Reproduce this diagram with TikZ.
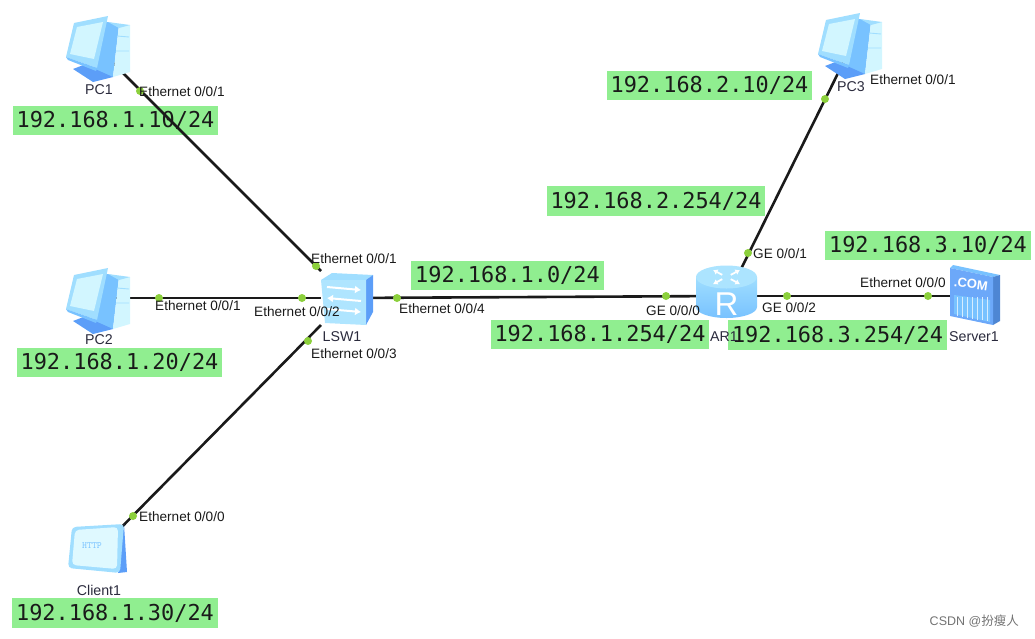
\documentclass[tikz,border=0pt]{standalone}
\usepackage{fontspec}
\setmainfont{Liberation Sans}
\newfontfamily\ipfont{DejaVu Sans Mono}
\newfontfamily\cjkfont{Noto Sans CJK SC}
\usetikzlibrary{arrows.meta,calc}
\definecolor{ipGreen}{HTML}{90EE90}
\definecolor{portGreen}{HTML}{8CD03C}
\definecolor{ink}{HTML}{1A1A1A}
\definecolor{devName}{HTML}{2A2A3C}
\definecolor{iconPale}{HTML}{D2F6FF}
\definecolor{iconLight}{HTML}{A0DEFF}
\definecolor{iconMid}{HTML}{78C2FF}
\definecolor{iconDark}{HTML}{5C9EF8}
\newcommand{\PortFont}{\fontsize{13.6}{15}\selectfont}
\newcommand{\NameFont}{\fontsize{14.2}{16}\selectfont}
\newcommand{\IpFont}{\ipfont\fontsize{21.9}{24}\selectfont}
\tikzset{
  link/.style={draw=ink, line width=2.6pt},
  devbox/.style={inner sep=0pt, outer sep=0pt, minimum width=#1, minimum height=54pt},
  portdot/.style={circle, fill=portGreen, inner sep=0pt, minimum size=8pt},
  portlbl/.style={font=\PortFont, text=ink, inner sep=0pt, anchor=west},
  devlbl/.style={font=\NameFont, text=devName, inner sep=0pt},
  ipbox/.style={fill=ipGreen, font=\IpFont, text=ink, inner sep=0pt,
    minimum width=#1, minimum height=29.5pt},
  % computer with tower, origin at top left of the icon
  pics/pcicon/.style={code={
    \fill[iconMid] (36,8) -- (43,7) -- (54,10) -- (48,62) -- (30,56) -- cycle;
    \fill[iconPale] (54,10) -- (65,10) -- (65,57) -- (48,62) -- cycle;
    \fill[iconLight] (43,7) -- (65,10) -- (54,13) -- cycle;
    \draw[iconLight, line width=0.9pt] (52,21) -- (64,22) (51,36) -- (64,36);
    \fill[iconDark] (8,54) -- (21,49) -- (30,54) -- (48,62) -- (28,67) -- cycle;
    \fill[iconLight] (1,42) -- (9,8) -- (43,1) -- (32,53) -- cycle;
    \fill[iconPale] (5,39) -- (12,12) -- (38,7) -- (29,44) -- cycle;
    \fill[iconMid] (1,42) -- (32,53) -- (31,56) -- (3,45) -- cycle;
  }},
  % switch box with three arrows
  pics/swicon/.style={code={
    \fill[iconLight] (0,7) -- (11,0) -- (52,2) -- (45,7) -- cycle;
    \fill[iconDark] (45,7) -- (52,2) -- (52,39) -- (45,52) -- cycle;
    \fill[iconLight!70!iconPale] (0,7) -- (45,7) -- (45,52) -- (4,50) -- cycle;
    \foreach \yy/\tip in {14/{-{Latex[length=6pt,width=8pt]}},25/{{Latex[length=6pt,width=8pt]}-},36/{-{Latex[length=6pt,width=8pt]}}}
      \draw[white, line width=2pt, \tip] (6,\yy) -- (40,\yy+3);
  }},
  % router cylinder
  pics/routericon/.style={code={
    \shade[top color=iconLight, bottom color=iconMid]
      (0,12) -- (0,42) arc[start angle=180, end angle=360, x radius=30.5pt, y radius=11pt]
      -- (61,12) -- cycle;
    \fill[iconLight!75!iconPale] (30.5,12) ellipse[x radius=30.5pt, y radius=11.5pt];
    \foreach \ang in {45,135,225,315}
      \draw[white, line width=1.8pt, -{Latex[length=4.5pt,width=6pt]}]
        ($(30.5,12)+(\ang:6pt and 3pt)$) -- ($(30.5,12)+(\ang:19pt and 10pt)$);
    \node[font=\fontsize{33}{34}\selectfont, text=white, inner sep=0pt] (routerR) at (30.5,39) {R};
  }},
  % server with lettering
  pics/servericon/.style={code={
    \fill[iconMid] (0,3) -- (3,0) -- (50,10) -- (43,12) -- cycle;
    \fill[iconDark!85!black] (43,12) -- (50,10) -- (50,56) -- (43,60) -- cycle;
    \fill[iconDark!90!white] (0,3) -- (43,12) -- (43,60) -- (0,51) -- cycle;
    \fill[iconMid] (4,30) -- (40,35) -- (40,57) -- (4,49) -- cycle;
    \foreach \xx in {7,12,...,37}
      \draw[white!70!iconMid, line width=0.6pt] (\xx,32) -- (\xx,50+\xx/6);
    \node[font=\bfseries\fontsize{13}{14}\selectfont, text=white, inner sep=0pt, rotate=-8] (serverCom) at (21,19) {.COM};
  }},
  % client tablet
  pics/clienticon/.style={code={
    \fill[iconDark] (56,0) -- (59,48) -- (50,49) -- cycle;
    \fill[iconLight, rounded corners=4pt] (4,3) -- (56,0) -- (52,49) -- (0,44) -- cycle;
    \fill[iconPale!70!white, rounded corners=4pt] (7,6) -- (50,3) -- (49,45) -- (4,41) -- cycle;
    \node[font=\ttfamily\fontsize{9.5}{10}\selectfont, text=iconMid, inner sep=0pt] (clientHttp) at (24,22) {HTTP};
  }},
}
\begin{document}
\begin{tikzpicture}[x=1pt,y=-1pt]
  \useasboundingbox (0,0) rectangle (1035,638);

  % Addresses
  \node[ipbox=205pt] (ip10) at (115.5,120.5) {192.168.1.10/24};
  \node[ipbox=205pt] (ip20) at (119.5,362.5) {192.168.1.20/24};
  \node[ipbox=206pt] (ip30) at (115,613) {192.168.1.30/24};
  \node[ipbox=205pt] (ip210) at (709.5,85.5) {192.168.2.10/24};
  \node[ipbox=218pt] (ip2254) at (656,201) {192.168.2.254/24};
  \node[ipbox=206pt] (ip310) at (928,245.5) {192.168.3.10/24};
  \node[ipbox=193pt] (ip10net) at (507.5,275.5) {192.168.1.0/24};
  \node[ipbox=218pt] (ip1254) at (600,334.5) {192.168.1.254/24};
  \node[ipbox=219pt] (ip3254) at (837.5,335) {192.168.3.254/24};

  % Devices (anchors for the connectors)
  \node[devbox=60pt] (pc1) at (98,48) {};
  \node[devbox=60pt] (pc2) at (98,298) {};
  \node[devbox=60pt] (client) at (99,550) {};
  \node[devbox=48pt] (lsw) at (345,298) {};
  \node[devbox=62pt] (ar) at (726,296) {};
  \node[devbox=60pt] (pc3) at (852,45) {};
  \node[devbox=50pt] (server) at (975,296) {};

  % Connectors
  \draw[link] (pc1.center) -- (lsw.north west);
  \draw[link] (pc2.center) -- (lsw.west);
  \draw[link] (client.center) -- (lsw.south west);
  \draw[link] (lsw.center) -- (ar.center);
  \draw[link] (ar.center) -- (server.center);
  \draw[link] ([xshift=15pt]ar.north) -- (pc3.center);

  % Icons
  \pic at (65,15) {pcicon};
  \pic at (65,267) {pcicon};
  \pic at (817,12) {pcicon};
  \pic at (68,524) {clienticon};
  \pic at (321,273) {swicon};
  \pic at (696,265) {routericon};
  \pic at (950,265) {servericon};

  % Port dots
  \foreach \x/\y/\name in {140/91/d1,316/266/d2,159/298/d3,302/298/d4,308/341/d5,133/516/d6,
      397/298/d7,666/296/d8,748/253/d9,787/296/d10,928/296/d11,825/99/d12}
    \node[portdot] (\name) at (\x,\y) {};

  % Port labels
  \foreach \x/\y/\txt/\name in {139/92/{Ethernet 0/0/1}/p1,311/259/{Ethernet 0/0/1}/p2,155/306/{Ethernet 0/0/1}/p3,
      254/312/{Ethernet 0/0/2}/p4,311/354/{Ethernet 0/0/3}/p5,399/309/{Ethernet 0/0/4}/p6,
      139/517/{Ethernet 0/0/0}/p7,646/311/{GE 0/0/0}/p8,753/254/{GE 0/0/1}/p9,
      762/308/{GE 0/0/2}/p10,860/283/{Ethernet 0/0/0}/p11,870/80/{Ethernet 0/0/1}/p12}
    \node[portlbl] (\name) at (\x,\y) {\txt};

  % Device names
  \node[devlbl] (name1) at (99,90) {PC1};
  \node[devlbl] (name2) at (99,340) {PC2};
  \node[devlbl] (name3) at (851,87) {PC3};
  \node[devlbl] (name4) at (99,590) {Client1};
  \node[devlbl] (name5) at (342,337) {LSW1};
  \node[devlbl] (name6) at (724,337) {AR1};
  \node[devlbl] (name7) at (974,337) {Server1};

  \node[font=\fontsize{12.5}{14}\selectfont, text=black!55, inner sep=0pt, anchor=east] (mark) at (1019,621)
    {CSDN @{\cjkfont 扮瘦人}};
\end{tikzpicture}
\end{document}
